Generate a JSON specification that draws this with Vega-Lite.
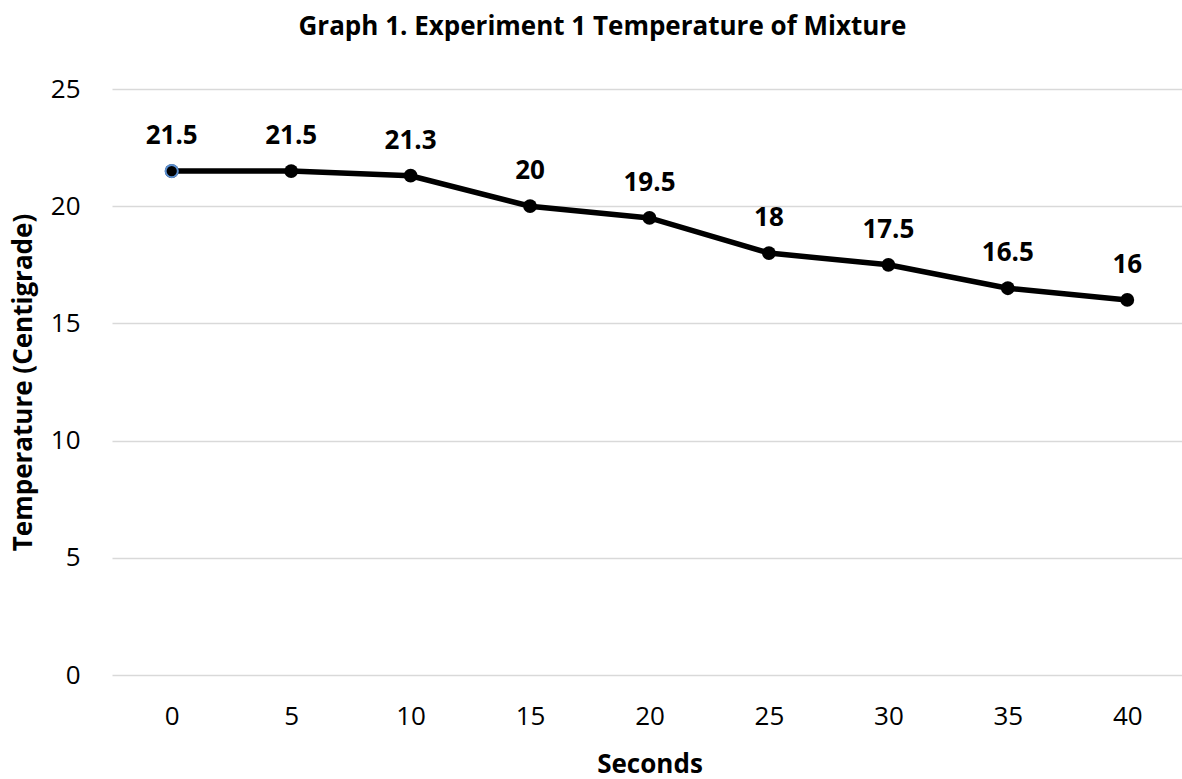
{
  "$schema": "https://vega.github.io/schema/vega-lite/v6.json",
  "autosize": {"type": "none"},
  "width": 1075,
  "height": 586,
  "padding": {"left": 112, "top": 89, "right": 0, "bottom": 104},
  "background": "white",
  "title": {
    "text": "Graph 1. Experiment 1 Temperature of Mixture",
    "font": "Open Sans",
    "fontSize": 26,
    "fontWeight": "bold",
    "color": "#000000",
    "anchor": "middle",
    "dy": -32,
    "dx": -47
  },
  "config": {
    "view": {"stroke": null},
    "font": "Open Sans"
  },
  "data": {
    "values": [
      {"seconds": "0", "temp": 21.5},
      {"seconds": "5", "temp": 21.5},
      {"seconds": "10", "temp": 21.3},
      {"seconds": "15", "temp": 20},
      {"seconds": "20", "temp": 19.5},
      {"seconds": "25", "temp": 18},
      {"seconds": "30", "temp": 17.5},
      {"seconds": "35", "temp": 16.5},
      {"seconds": "40", "temp": 16}
    ]
  },
  "encoding": {
    "x": {
      "field": "seconds",
      "type": "ordinal",
      "sort": null,
      "scale": {"type": "point", "padding": 0.5},
      "axis": {
        "title": "Seconds",
        "titleFont": "Open Sans",
        "titleFontSize": 26,
        "titleFontWeight": "bold",
        "titleColor": "#000",
        "titlePadding": 22,
        "labelFont": "Open Sans",
        "labelFontSize": 26,
        "labelColor": "#000",
        "labelAngle": 0,
        "labelPadding": 28,
        "domain": false,
        "ticks": false,
        "grid": false
      }
    },
    "y": {
      "field": "temp",
      "type": "quantitative",
      "scale": {"domain": [0, 25], "nice": false},
      "axis": {
        "title": "Temperature (Centigrade)",
        "titleFont": "Open Sans",
        "titleFontSize": 26,
        "titleFontWeight": "bold",
        "titleColor": "#000",
        "titlePadding": 14,
        "values": [0, 5, 10, 15, 20, 25],
        "labelFont": "Open Sans",
        "labelFontSize": 26,
        "labelColor": "#000",
        "labelPadding": 32,
        "domain": false,
        "ticks": false,
        "grid": true,
        "gridColor": "#d9d9d9",
        "gridWidth": 1.5
      }
    }
  },
  "layer": [
    {"mark": {"type": "line", "color": "#000000", "strokeWidth": 5.5}},
    {"mark": {"type": "point", "filled": true, "color": "#000000", "size": 190, "opacity": 1}},
    {
      "transform": [{"filter": "datum.seconds == '0'"}],
      "mark": {"type": "point", "filled": true, "fill": "#000000", "stroke": "#5B8FD0", "strokeWidth": 2, "size": 150, "opacity": 1}
    },
    {
      "mark": {"type": "text", "font": "Open Sans", "fontSize": 26, "fontWeight": "bold", "color": "#000", "baseline": "alphabetic", "dy": -27},
      "encoding": {"text": {"field": "temp", "type": "quantitative"}}
    }
  ]
}
